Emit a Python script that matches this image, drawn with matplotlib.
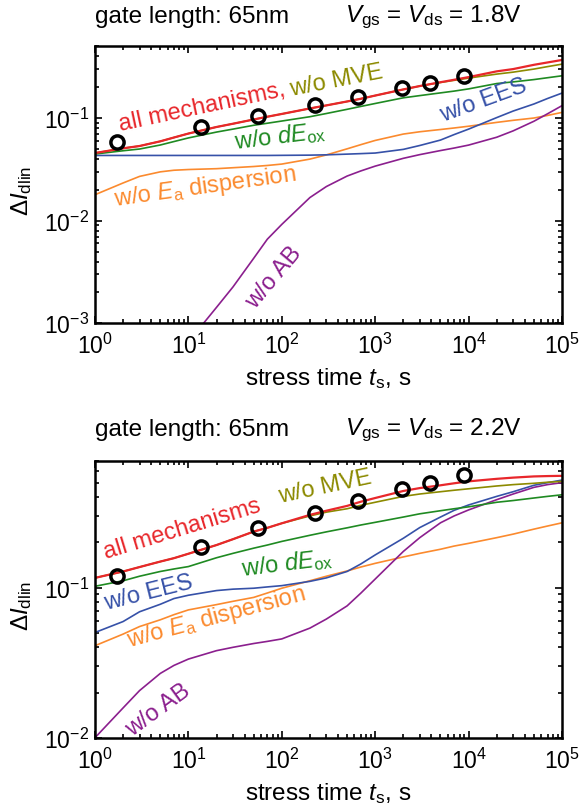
import matplotlib

matplotlib.use("Agg")
import matplotlib.pyplot as plt
from matplotlib.ticker import LogLocator, NullFormatter

plt.rcParams["font.family"] = ["Liberation Sans", "DejaVu Sans"]
plt.rcParams["mathtext.fontset"] = "custom"
plt.rcParams["mathtext.rm"] = "Liberation Sans"
plt.rcParams["mathtext.it"] = "Liberation Sans:italic"
plt.rcParams["mathtext.bf"] = "Liberation Sans:bold"
plt.rcParams["axes.unicode_minus"] = False

T = [1, 2, 3, 5, 7, 10, 20, 30, 50, 70, 100, 200, 300, 500, 700,
     1e3, 2e3, 3e3, 5e3, 7e3, 1e4, 2e4, 3e4, 5e4, 7e4, 1e5]
T_AB_18 = [10, 20, 30, 50, 70, 100, 200, 300, 500, 700,
           1e3, 2e3, 3e3, 5e3, 7e3, 1e4, 2e4, 3e4, 5e4, 7e4, 1e5]
T_MEAS = [1.7, 13.5, 56, 225, 660, 1950, 3900, 9000]

# Vgs = Vds = 1.8 V
MEAS_18 = [0.058, 0.082, 0.104, 0.134, 0.161, 0.195, 0.22, 0.254]
ALL_18 = [0.0456, 0.0507, 0.0534, 0.0593, 0.0646, 0.0706, 0.0818, 0.088, 0.0968,
          0.103, 0.1096, 0.124, 0.1328, 0.145, 0.154, 0.1656, 0.19, 0.205,
          0.2234, 0.236, 0.2506, 0.285, 0.30, 0.33, 0.348, 0.368]
MVE_18 = [0.0456, 0.0507, 0.0534, 0.0593, 0.0646, 0.0706, 0.0818, 0.088, 0.0968,
          0.103, 0.1096, 0.124, 0.1328, 0.145, 0.154, 0.1656, 0.19, 0.205,
          0.222, 0.233, 0.245, 0.268, 0.28, 0.30, 0.317, 0.335]
DEOX_18 = [0.0446, 0.048, 0.0499, 0.0546, 0.059, 0.064, 0.073, 0.078, 0.085,
           0.089, 0.0935, 0.103, 0.1107, 0.1216, 0.1297, 0.1386, 0.1574, 0.1654,
           0.1758, 0.183, 0.1923, 0.2168, 0.225, 0.237, 0.247, 0.258]
EES_18 = [0.0432, 0.0432, 0.0432, 0.0432, 0.0432, 0.0432, 0.0432, 0.0432, 0.0432,
          0.0432, 0.0433, 0.0435, 0.0438, 0.0445, 0.045, 0.0456, 0.0495, 0.054,
          0.061, 0.069, 0.078, 0.101, 0.117, 0.137, 0.155, 0.175]
EA_18 = [0.0179, 0.0233, 0.027, 0.0299, 0.031, 0.0315, 0.0321, 0.0328, 0.0337,
         0.0345, 0.0356, 0.0398, 0.0437, 0.0501, 0.055, 0.0605, 0.0698, 0.0735,
         0.0773, 0.080, 0.0832, 0.0907, 0.095, 0.10, 0.106, 0.1135]
AB_18 = [0.00066, 0.00143, 0.00226, 0.0043, 0.0066, 0.0092, 0.0168, 0.0215,
         0.0272, 0.0305, 0.034, 0.0405, 0.044, 0.0482, 0.051, 0.0545, 0.065,
         0.075, 0.093, 0.11, 0.132]

# Vgs = Vds = 2.2 V
MEAS_22 = [0.12, 0.185, 0.25, 0.315, 0.38, 0.455, 0.5, 0.56]
ALL_22 = [0.116, 0.128, 0.137, 0.149, 0.157, 0.168, 0.192, 0.21, 0.236, 0.25,
          0.268, 0.305, 0.325, 0.35, 0.373, 0.395, 0.44, 0.46, 0.48, 0.495,
          0.51, 0.53, 0.54, 0.55, 0.553, 0.555]
MVE_22 = [0.116, 0.128, 0.137, 0.149, 0.157, 0.168, 0.192, 0.21, 0.236, 0.25,
          0.268, 0.30, 0.318, 0.335, 0.353, 0.37, 0.405, 0.42, 0.435, 0.445,
          0.455, 0.475, 0.485, 0.495, 0.503, 0.51]
DEOX_22 = [0.102, 0.111, 0.119, 0.128, 0.133, 0.138, 0.158, 0.169, 0.183, 0.192,
           0.203, 0.223, 0.235, 0.25, 0.261, 0.272, 0.295, 0.31, 0.325, 0.335,
           0.345, 0.37, 0.38, 0.395, 0.405, 0.415]
EES_22 = [0.0502, 0.0594, 0.069, 0.0774, 0.0845, 0.0889, 0.0955, 0.0976, 0.099,
          0.101, 0.103, 0.11, 0.116, 0.128, 0.1435, 0.165, 0.213, 0.251, 0.295,
          0.327, 0.355, 0.405, 0.435, 0.48, 0.50, 0.52]
EA_22 = [0.041, 0.049, 0.055, 0.061, 0.066, 0.071, 0.077, 0.081, 0.086, 0.092,
         0.099, 0.111, 0.119, 0.129, 0.137, 0.145, 0.16, 0.169, 0.18, 0.189,
         0.197, 0.215, 0.227, 0.245, 0.257, 0.27]
AB_22 = [0.01, 0.0158, 0.0206, 0.0268, 0.0303, 0.0334, 0.038, 0.040, 0.0424,
         0.0438, 0.0455, 0.0537, 0.0617, 0.0755, 0.0917, 0.114, 0.174, 0.215,
         0.27, 0.30, 0.329, 0.385, 0.42, 0.465, 0.485, 0.50]

RED = "#e8272b"
OLIVE = "#8c8a00"
GREEN = "#1f8a22"
BLUE = "#3651a8"
ORANGE = "#fb8a2e"
PURPLE = "#8b1f8e"

FS = 17.5
LABEL_FS = 17
TICK_FS = 16.5

W, H = 587, 812
fig = plt.figure(figsize=(W / 100, H / 100), dpi=100)
ax1 = fig.add_axes([95 / W, 1 - 324.3 / H, 467 / W, 277 / H])
ax2 = fig.add_axes([95 / W, 1 - 738.7 / H, 467 / W, 277 / H])


def style_axes(ax, ylim):
    ax.set_xscale("log")
    ax.set_yscale("log")
    ax.set_xlim(1, 1e5)
    ax.set_ylim(*ylim)
    for s in ax.spines.values():
        s.set_linewidth(1.8)
    ax.xaxis.set_major_locator(LogLocator(base=10, numticks=10))
    ax.xaxis.set_minor_locator(LogLocator(base=10, subs=range(2, 10), numticks=20))
    ax.xaxis.set_minor_formatter(NullFormatter())
    ax.yaxis.set_minor_locator(LogLocator(base=10, subs=range(2, 10), numticks=20))
    ax.yaxis.set_minor_formatter(NullFormatter())
    ax.tick_params(which="both", direction="in", top=True, right=True,
                   labelsize=TICK_FS, width=1.2)
    ax.tick_params(axis="x", which="both", pad=7)
    ax.tick_params(axis="y", which="both", pad=4)
    ax.tick_params(which="major", length=5)
    ax.tick_params(which="minor", length=3)
    ax.set_xlabel(r"stress time $t_{\mathrm{s}}$, s", fontsize=FS)
    ax.xaxis.set_label_coords(0.5, -0.152)
    ax.set_ylabel(r"$\Delta I_{\mathrm{dlin}}$", fontsize=FS)
    ax.yaxis.set_label_coords(-0.13, 0.48)


def draw_curves(ax, all_, mve, deox, ees, ea, ab, t_ab, meas):
    ax.plot(T, ea, color=ORANGE, lw=1.2)
    ax.plot(t_ab, ab, color=PURPLE, lw=1.2)
    ax.plot(T, ees, color=BLUE, lw=1.2)
    ax.plot(T, deox, color=GREEN, lw=1.2)
    ax.plot(T, mve, color=OLIVE, lw=1.2)
    ax.plot(T, all_, color=RED, lw=1.6)
    ax.plot(T_MEAS, meas, "o", ms=9.5, mfc="none", mec="black", mew=2.5)


def label(ax, x, y, s, color, rot):
    ax.text(x, y, s, color=color, fontsize=LABEL_FS, rotation=rot,
            rotation_mode="anchor", ha="center", va="center")


# upper panel
style_axes(ax1, (1e-3, 0.5))
draw_curves(ax1, ALL_18, MVE_18, DEOX_18, EES_18, EA_18, AB_18, T_AB_18, MEAS_18)
label(ax1, 14.0, 0.13, "all mechanisms,", RED, 12)
label(ax1, 380, 0.232, "w/o MVE", OLIVE, 11)
label(ax1, 95, 0.068, r"w/o $dE_{\mathrm{ox}}$", GREEN, 7)
label(ax1, 14500, 0.149, "w/o EES", BLUE, 20)
label(ax1, 15.1, 0.0216, r"w/o $E_{\mathrm{a}}$ dispersion", ORANGE, 8)
label(ax1, 83, 0.0028, "w/o AB", PURPLE, 50)

# lower panel
style_axes(ax2, (1e-2, 0.7))
draw_curves(ax2, ALL_22, MVE_22, DEOX_22, EES_22, EA_22, AB_22, T, MEAS_22)
label(ax2, 8.55, 0.249, "all mechanisms", RED, 17)
label(ax2, 291, 0.474, "w/o MVE", OLIVE, 12)
label(ax2, 113, 0.147, r"w/o $dE_{\mathrm{ox}}$", GREEN, 7)
label(ax2, 3.7, 0.0926, "w/o EES", BLUE, 14)
label(ax2, 19.7, 0.0638, r"w/o $E_{\mathrm{a}}$ dispersion", ORANGE, 15)
label(ax2, 4.75, 0.0155, "w/o AB", PURPLE, 36)

# panel headings
for y_px, volt in [(17, "1.8V"), (430, "2.2V")]:
    fig.text(95 / W, 1 - y_px / H, "gate length: 65nm", fontsize=FS,
             ha="left", va="center")
    fig.text(345 / W, 1 - y_px / H,
             r"$V_{\mathrm{gs}}$ = $V_{\mathrm{ds}}$ = " + volt, fontsize=FS,
             ha="left", va="center")

fig.savefig("out.png", dpi=100)
